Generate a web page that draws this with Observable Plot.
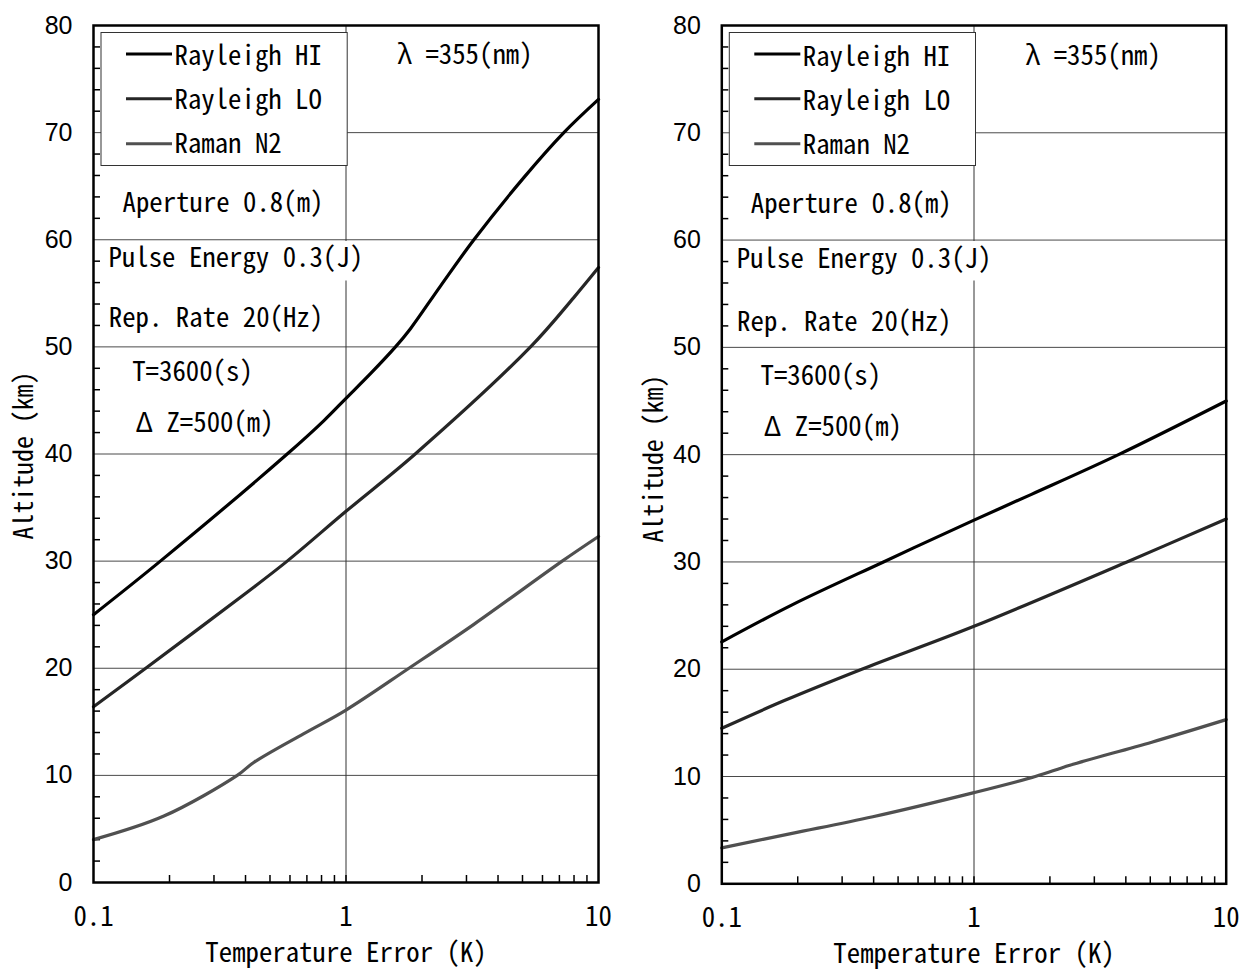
<!DOCTYPE html>
<html>
<head>
<meta charset="utf-8">
<script src="https://cdn.jsdelivr.net/npm/d3@7"></script>
<script src="https://cdn.jsdelivr.net/npm/@observablehq/plot@0.6"></script>
<style>
  html, body { margin: 0; padding: 0; background: #fff; }
  #wrap { display: flex; width: 1250px; height: 970px; }
  #wrap > div { width: 625px; height: 970px; }
  #wrap svg { overflow: visible; }
</style>
</head>
<body>
<div id="wrap"><div id="left"></div><div id="right"></div></div>
<script>
// ---------------- data ----------------
const seriesNames = ["Rayleigh HI", "Rayleigh LO", "Raman N2"];
const seriesColors = ["#000000", "#262626", "#505050"];

// Left panel
const leftHiErr = [0.1, 0.184, 0.585, 0.816, 1, 1.25, 1.57, 1.8, 2.37, 3.21, 5.06, 7.29, 10];
const leftHiAlt = [25.0, 30.0, 40.0, 43.1, 45.2, 47.5, 50.0, 51.7, 55.7, 60.0, 65.8, 70.0, 73.1];
const leftLoErr = [0.1, 0.161, 0.406, 0.585, 1, 1.88, 5.38, 7.98, 10];
const leftLoAlt = [16.4, 20.0, 27.1, 30.0, 34.65, 40.0, 50.0, 54.6, 57.4];
const leftN2Err = [0.1, 0.19, 0.371, 0.431, 0.681, 1, 1.775, 3.21, 7.18, 10];
const leftN2Alt = [4.0, 6.2, 10.0, 11.2, 13.9, 16.1, 20.0, 24.1, 30.0, 32.3];

// Right panel
const rightHiErr = [0.1, 0.19, 0.4375, 1, 1.69, 3.74, 10];
const rightHiAlt = [22.55, 26.0, 30.0, 33.9, 36.3, 40.0, 45.0];
const rightLoErr = [0.1, 0.178, 0.359, 1, 4.04, 10];
const rightLoAlt = [14.5, 17.1, 20.0, 24.0, 30.0, 34.0];
const rightN2Err = [0.1, 0.19, 0.397, 1, 1.75, 2.4, 5.07, 10];
const rightN2Alt = [3.35, 4.7, 6.25, 8.5, 10.0, 11.05, 13.2, 15.3];

// axes
const yTickValues = [0, 10, 20, 30, 40, 50, 60, 70, 80];
const yGridValues = [10, 20, 30, 40, 50, 60, 70];
const yMinorValues = [2,4,6,8,12,14,16,18,22,24,26,28,32,34,36,38,42,44,46,48,52,54,56,58,62,64,66,68,72,74,76,78];
const xTickValues = [0.1, 1, 10];
const xTickLabels = ["0.1", "1", "10"];
const xGridValues = [1];
const xMinorValues = [0.2,0.3,0.4,0.5,0.6,0.7,0.8,0.9,1,2,3,4,5,6,7,8,9];

const xTitle = "Temperature Error (K)";
const yTitle = "Altitude (km)";
const infoTexts = ["λ =355(nm)", "Aperture 0.8(m)", "Pulse Energy 0.3(J)", "Rep. Rate 20(Hz)", "T=3600(s)", "Δ Z=500(m)"];

// ---------------- layout (frame-relative pixels) ----------------
const infoPos = [[303.7, 38.3], [29, 186], [15, 241.5], [15.3, 301], [38.7, 355.5], [42, 406.5]];
const legendTextDy = [39.3, 83.3, 127.7];
const legendLineDy = [28.5, 73.3, 118.3];

// ---------------- fonts ----------------
function fontAvailable(fam) {
  const ctx = document.createElement("canvas").getContext("2d");
  const probe = "Rayleigh HI 0.123 WWmmiill";
  return ["monospace", "serif", "sans-serif"].every(base => {
    ctx.font = `32px ${base}`; const w0 = ctx.measureText(probe).width;
    ctx.font = `32px "${fam}", ${base}`; const w1 = ctx.measureText(probe).width;
    return Math.abs(w0 - w1) > 0.5;
  });
}
const MONO_OK = fontAvailable("Noto Sans Mono CJK JP");
const MONO = MONO_OK ? "Noto Sans Mono CJK JP" : "DejaVu Sans Mono";
const MONO_SIZE = MONO_OK ? 27.5 : 27.4;
const MONO_SCALE = MONO_OK ? 0.975 : 13.4 / (0.602 * 27.4);

function rows(name, xs, ys) {
  return xs.map((x, i) => ({series: name, err: x, alt: ys[i]}));
}

function panel(el, cfg) {
  const W = 625, H = 970;
  const {marginLeft, marginRight, marginTop, marginBottom} = cfg;
  const fw = W - marginLeft - marginRight;
  const fh = H - marginTop - marginBottom;
  const table = [
    ...rows(seriesNames[0], cfg.hi[0], cfg.hi[1]),
    ...rows(seriesNames[1], cfg.lo[0], cfg.lo[1]),
    ...rows(seriesNames[2], cfg.n2[0], cfg.n2[1])
  ];
  const marks = [
    Plot.ruleY(yGridValues, {stroke: "#4a4a4a", strokeWidth: 1}),
    Plot.ruleX(xGridValues, {stroke: "#333", strokeWidth: 1}),
    // legend box (white, covers grid)
    Plot.frame({fill: "white", stroke: "#333", strokeWidth: 1,
      insetLeft: 7.5, insetTop: 7, insetRight: fw - 253.7, insetBottom: fh - 140}),
    // white text box behind "Pulse Energy"
    Plot.frame({fill: "white", stroke: "none",
      insetLeft: 7.5, insetTop: 215.5, insetRight: fw - 280, insetBottom: fh - 255}),
    // minor ticks (inward)
    Plot.ruleY(yMinorValues, {insetRight: fw - 7, stroke: "black", strokeWidth: 1.5}),
    Plot.ruleX(xMinorValues, {insetTop: fh - 7, stroke: "black", strokeWidth: 1.5}),
    // curves
    Plot.line(table, {x: "err", y: "alt", z: "series", stroke: "series",
      strokeWidth: 3.2, curve: "catmull-rom"}),
    Plot.frame({stroke: "black", strokeWidth: 2.5}),
    // legend samples
    ...seriesNames.map((n, i) => Plot.ruleY([80], {dy: legendLineDy[i], insetLeft: 33,
      insetRight: fw - 79, stroke: seriesColors[i], strokeWidth: 3})),
    ...seriesNames.map((n, i) => Plot.text([n], {frameAnchor: "top-left", dx: 81, dy: legendTextDy[i] + cfg.textShift,
      textAnchor: "start", lineAnchor: "bottom", fontFamily: MONO, fontSize: MONO_SIZE, fill: "black"})),
    ...infoTexts.map((t, i) => Plot.text([t], {frameAnchor: "top-left", dx: infoPos[i][0],
      dy: infoPos[i][1] + cfg.textShift + (i >= 3 ? cfg.lowShift : 0),
      textAnchor: "start", lineAnchor: "bottom", fontFamily: MONO, fontSize: MONO_SIZE, fill: "black"})),
    // tick labels
    Plot.text(yTickValues, {y: d => d, text: d => String(d), frameAnchor: "left", dx: -21,
      textAnchor: "end", lineAnchor: "middle", fontFamily: "Liberation Sans", fontSize: 25, fill: "black"}),
    Plot.text(xTickValues, {x: d => d, text: (d, i) => xTickLabels[i], frameAnchor: "bottom", dy: 43,
      textAnchor: "middle", lineAnchor: "bottom", fontFamily: MONO, fontSize: 27.5, fill: "black"}),
    // axis titles
    Plot.text([xTitle], {frameAnchor: "bottom", dy: cfg.xTitleDy, textAnchor: "middle", lineAnchor: "bottom",
      fontFamily: MONO, fontSize: 27.5, fill: "black"}),
    Plot.text([yTitle], {frameAnchor: "left", dx: cfg.yTitleDx, dy: cfg.yTitleDy, rotate: -90,
      textAnchor: "middle", lineAnchor: "bottom", fontFamily: MONO, fontSize: 26.5, fill: "black"})
  ];
  const svg = Plot.plot({
    width: W, height: H,
    marginLeft, marginRight, marginTop, marginBottom,
    x: {type: "log", domain: [0.1, 10], axis: null},
    y: {domain: [0, 80], axis: null},
    color: {domain: seriesNames, range: seriesColors},
    style: {background: "white", overflow: "visible"},
    marks
  });
  if (MONO_SCALE !== 1) {
    svg.querySelectorAll("text").forEach(t => {
      const g = t.closest("[font-family]");
      if (g && g.getAttribute("font-family").includes("Mono")) {
        t.setAttribute("transform", (t.getAttribute("transform") || "") + ` scale(${MONO_SCALE},1)`);
      }
    });
  }
  document.getElementById(el).appendChild(svg);
}

panel("left", {
  hi: [leftHiErr, leftHiAlt], lo: [leftLoErr, leftLoAlt], n2: [leftN2Err, leftN2Alt],
  marginLeft: 93, marginRight: 27, marginTop: 25, marginBottom: 88,
  xTitleDy: 79, yTitleDx: -61, yTitleDy: 1.5, textShift: 0, lowShift: 0
});
panel("right", {
  hi: [rightHiErr, rightHiAlt], lo: [rightLoErr, rightLoAlt], n2: [rightN2Err, rightN2Alt],
  marginLeft: 96.3, marginRight: 24.3, marginTop: 25, marginBottom: 86.7,
  xTitleDy: 79, yTitleDx: -59.3, yTitleDy: 4, textShift: 1, lowShift: 3
});
</script>
</body>
</html>
